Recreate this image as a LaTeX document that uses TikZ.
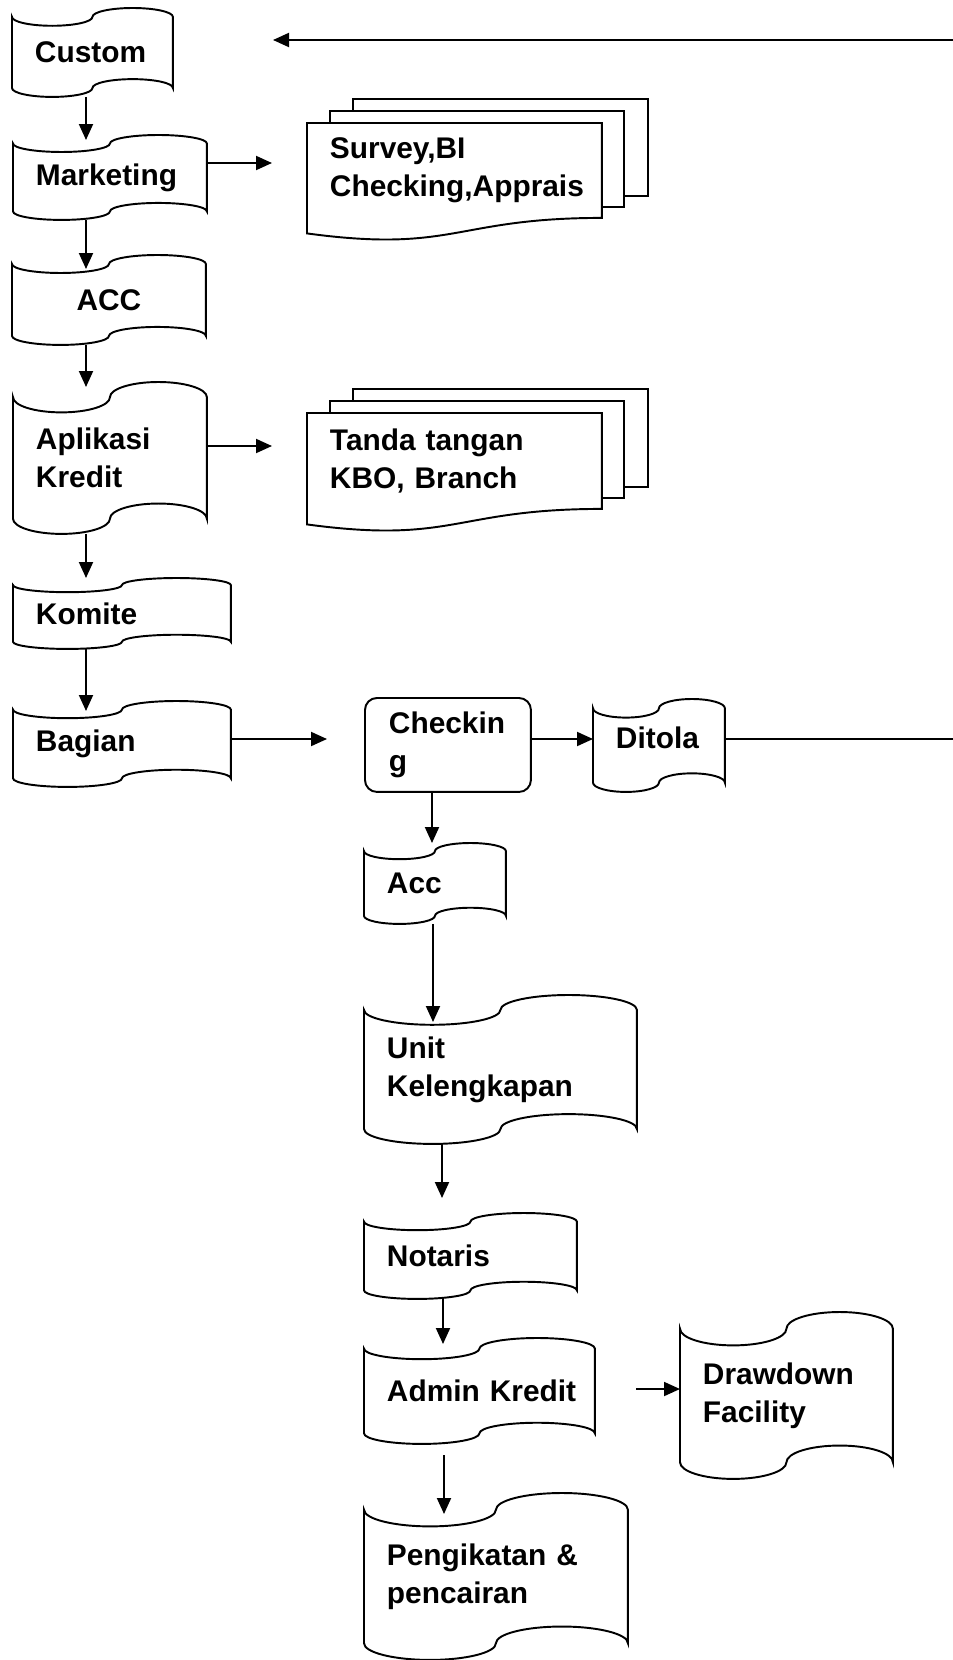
\documentclass[tikz,border=0pt]{standalone}
\usepackage{fontspec}
\setmainfont{Liberation Sans}
\usepackage{tikz}
\usetikzlibrary{arrows.meta, calc}
\hyphenpenalty=10000

\begin{document}
\begin{tikzpicture}[x=0.02cm,y=-0.02cm,line width=1.1pt,
  font=\fontsize{17}{21.6}\selectfont\bfseries,
  box/.style={anchor=north west, inner xsep=0pt, inner ysep=0pt, align=left},
  arr/.style={-{Triangle[length=0.32cm,width=0.28cm]}}]
\useasboundingbox (0,0) rectangle (953,1660);
% left column
\node[box, minimum width=3.18cm, minimum height=1.74cm, text width=2.30cm] (custom) at (12,8) {Custom};
\node[box, minimum width=3.84cm, minimum height=1.66cm, text width=2.96cm] (marketing) at (13,135) {Marketing};
\node[box, minimum width=3.84cm, minimum height=1.76cm, text width=2.96cm, align=center] (acc) at (12,255) {ACC};
\node[box, minimum width=3.84cm, minimum height=3.0cm, text width=2.96cm] (aplikasi) at (13,382) {Aplikasi\\Kredit};
\node[box, minimum width=4.32cm, minimum height=1.38cm, text width=3.44cm] (komite) at (13,578) {Komite};
\node[box, minimum width=4.32cm, minimum height=1.68cm, text width=3.44cm] (bagian) at (13,701) {Bagian};
% documents
\node[box, minimum width=5.86cm, minimum height=1.86cm, text width=4.98cm] (survey) at (307,123) {Survey,BI\\Checking,Apprais};
\node[box, minimum width=5.86cm, minimum height=1.88cm, text width=4.98cm] (tanda) at (307,413) {Tanda tangan\\KBO, Branch};
% right column
\node[box, draw, rounded corners=0.24cm, minimum width=3.32cm, minimum height=1.88cm, text width=2.36cm] (checking) at (364,697) {Checkin\\g};
\node[box, minimum width=2.6cm, minimum height=1.82cm, text width=1.72cm, text depth=0.32cm] (ditola) at (593,699) {Ditola};
\node[box, minimum width=2.8cm, minimum height=1.58cm, text width=1.92cm] (acck) at (364,843) {Acc};
\node[box, minimum width=5.42cm, minimum height=2.94cm, text width=4.54cm] (unit) at (364,995) {Unit\\Kelengkapan};
\node[box, minimum width=4.22cm, minimum height=1.68cm, text width=3.34cm] (notaris) at (364,1213) {Notaris};
\node[box, minimum width=4.58cm, minimum height=2.08cm, text width=3.70cm] (admin) at (364,1338) {Admin~Kredit};
\node[box, minimum width=4.22cm, minimum height=3.3cm, text width=3.34cm] (drawdown) at (680,1312) {Drawdown\\Facility};
\node[box, minimum width=5.24cm, minimum height=3.3cm, text width=4.36cm] (pengikatan) at (364,1493) {Pengikatan \&\\pencairan};

% punched tape outlines
\foreach \t in {custom,marketing,acc,aplikasi,komite,bagian,ditola,acck,unit,notaris,admin,drawdown,pengikatan}
  \draw let \p1=(\t.north west), \p2=(\t.south east), \n1={(\x2-\x1)/4}, \n2={(\y1-\y2)/10} in
    (\x1,\y1-\n2) arc[start angle=180,end angle=360,x radius=\n1,y radius=\n2]
    arc[start angle=180,end angle=0,x radius=\n1,y radius=\n2] -- (\x2,\y2+\n2)
    arc[start angle=0,end angle=180,x radius=\n1,y radius=\n2]
    arc[start angle=360,end angle=180,x radius=\n1,y radius=\n2] -- cycle;

% stacked documents
\foreach \t in {survey,tanda} {
  \draw (\t.north west) -- (\t.north east) -- (\t.south east)
    .. controls (\t.south) and ([yshift=-0.71cm]\t.south) .. ([yshift=-0.31cm]\t.south west) -- cycle;
  \draw ([shift={(23,0)}]\t.north west) |- ([shift={(22,-12)}]\t.north east) -- ([shift={(22,-11)}]\t.south east) -- ([shift={(0,-11)}]\t.south east);
  \draw ([shift={(46,-12)}]\t.north west) |- ([shift={(46,-24)}]\t.north east) -- ([shift={(46,-22)}]\t.south east) -- ([shift={(22,-22)}]\t.south east);
}

% free ends
\coordinate (ret1) at (953,739);
\coordinate (ret2) at (953,40);
\coordinate (custin) at (273,40);
\coordinate (svin) at (272,163);
\coordinate (tdin) at (272,446);
\coordinate (ckin) at (327,739);
\coordinate (ddout) at (636,1389);
\coordinate (pkout) at (444,1455);

% connectors
\draw[arr] (ret2) -- (custin);
\draw[arr] (marketing.east |- svin) -- (svin);
\draw[arr] (aplikasi.east |- tdin) -- (tdin);
\draw[arr] (bagian.east |- ckin) -- (ckin);
\draw[arr] (checking.east |- ret1) -- (ditola.west |- ret1);
\draw (ditola.east |- ret1) -- (ret1);
\foreach \a/\b/\c/\d in {custom/marketing/86/5, marketing/acc/86/14, acc/aplikasi/86/5, aplikasi/komite/86/0, komite/bagian/86/10, checking/acck/432/0, acck/unit/433/27, unit/notaris/442/-15, notaris/admin/443/6}
  \draw[arr] (\a.south -| \c,0) -- ($(\b.north -| \c,0)+(0,\d)$);
\draw[arr] (pkout) -- ($(pengikatan.north -| pkout)+(0,21)$);
\draw[arr] (ddout) -- (drawdown.west |- ddout);
\end{tikzpicture}
\end{document}
